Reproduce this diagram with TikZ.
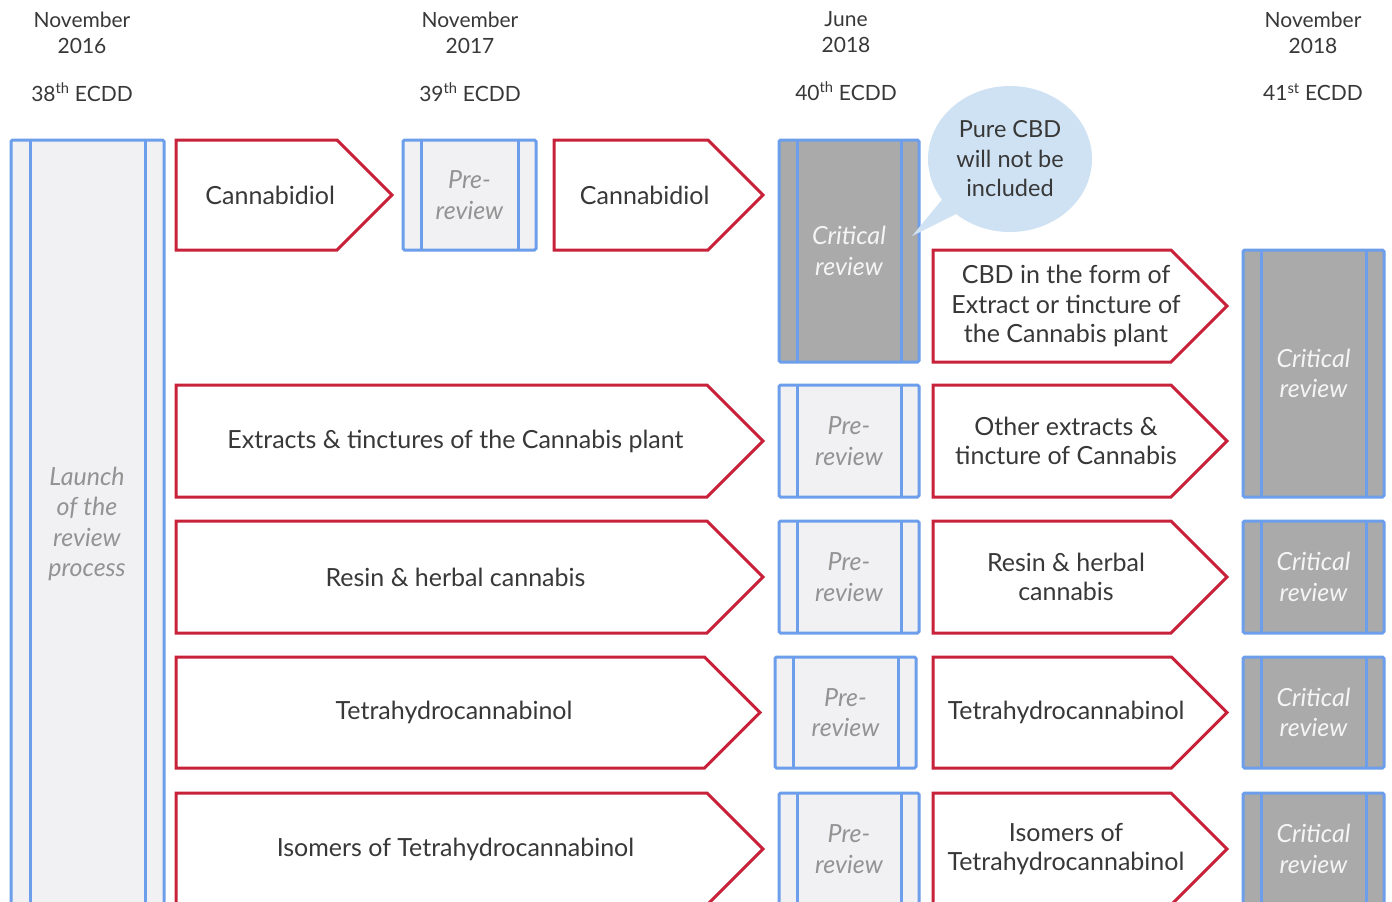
\documentclass[tikz,border=0pt]{standalone}
\usepackage{fontspec}
\setmainfont{Lato}
\usetikzlibrary{shapes.callouts}
\definecolor{redc}{HTML}{C8213A}
\definecolor{bluec}{HTML}{6D9EEB}
\definecolor{lightf}{HTML}{F1F1F3}
\definecolor{grayf}{HTML}{AAAAAA}
\definecolor{txt}{HTML}{383838}
\definecolor{bubble}{HTML}{CFE2F3}
\tikzset{
  redline/.style={draw=redc, line width=3pt, line join=miter, fill=white},
  boxline/.style={draw=bluec, line width=3pt, rounded corners=1.5pt},
  innerline/.style={draw=bluec, line width=3pt},
  lbl/.style={text=txt, font=\fontsize{25}{29.5}\selectfont, align=center, inner sep=0pt},
  hdr/.style={text=txt, font=\fontsize{21}{26}\selectfont, align=center, inner sep=0pt},
  prelbl/.style={text=gray!85, font=\itshape\fontsize{25}{30.5}\selectfont, align=center, inner sep=0pt},
  critlbl/.style={text=white!92!gray, font=\itshape\fontsize{25}{30.5}\selectfont, align=center, inner sep=0pt},
}
\newcommand{\redarrow}[6]{%
  \draw[redline] (#1,#2) -- ({#3-(#4-#2)/2},#2) -- (#3,{(#2+#4)/2}) -- ({#3-(#4-#2)/2},#4) -- (#1,#4) -- cycle;
  \node[lbl] (#5) at ({(#1+#3-(#4-#2)/4)/2},{(#2+#4)/2}) {#6};}
\newcommand{\revbox}[8]{% x1 y1 x2 y2 fill name style text
  \fill[#5] (#1,#2) rectangle (#3,#4);
  \draw[innerline] ({#1+18},#2) -- ({#1+18},#4);
  \draw[innerline] ({#3-18},#2) -- ({#3-18},#4);
  \draw[boxline] (#1,#2) rectangle (#3,#4);
  \node[#7] (#6) at ({(#1+#3)/2},{(#2+#4)/2}) {#8};}
\begin{document}
\begin{tikzpicture}[x=1pt,y=-1pt]
\useasboundingbox (0,0) rectangle (1392,902);
\clip (0,0) rectangle (1392,902);
\fill[white] (0,0) rectangle (1392,902);
% headers
\node[hdr] (h1) at (82,33) {November\\2016};
\node[hdr] (e1) at (82,92) {38\textsuperscript{th} ECDD};
\node[hdr] (h2) at (470,33) {November\\2017};
\node[hdr] (e2) at (470,92) {39\textsuperscript{th} ECDD};
\node[hdr] (h3) at (846,32) {June\\2018};
\node[hdr] (e3) at (846,91) {40\textsuperscript{th} ECDD};
\node[hdr] (h4) at (1313,33) {November\\2018};
\node[hdr] (e4) at (1313,92) {41\textsuperscript{st} ECDD};
% launch
\fill[lightf] (11,140) rectangle (164,910);
\draw[innerline] (30,140) -- (30,910);
\draw[innerline] (145,140) -- (145,910);
\draw[boxline] (11,140) rectangle (164,910);
\node[prelbl] (launch) at (87,524) {Launch\\of the\\review\\process};
% row 1
\redarrow{176}{140}{392}{250}{cbd1}{Cannabidiol}
\revbox{403}{140}{536}{250}{lightf}{pre1}{prelbl}{Pre-\\review}
\redarrow{554}{140}{763}{250}{cbd2}{Cannabidiol}
\revbox{779}{140}{919}{362}{grayf}{crit1}{critlbl}{Critical\\review}
\node[ellipse callout, fill=bubble, minimum width=164pt, minimum height=146pt,
      callout absolute pointer={(912,236)}, text=txt, font=\fontsize{23.5}{29.5}\selectfont,
      align=center, inner sep=0pt] (bub) at (1010,159) {Pure CBD\\will not be\\included};
\redarrow{933}{250}{1227}{362}{cbdext}{CBD in the form of\\Extract or tincture of\\the Cannabis plant}
\revbox{1243}{250}{1384}{497}{grayf}{crit2}{critlbl}{Critical\\review}
% row 2
\redarrow{176}{385}{763}{497}{ext}{Extracts \& tinctures of the Cannabis plant}
\revbox{779}{385}{919}{497}{lightf}{pre2}{prelbl}{Pre-\\review}
\redarrow{933}{385}{1227}{497}{oext}{Other extracts \&\\tincture of Cannabis}
% row 3
\redarrow{176}{521}{763}{633}{resin}{Resin \& herbal cannabis}
\revbox{779}{521}{919}{633}{lightf}{pre3}{prelbl}{Pre-\\review}
\redarrow{933}{521}{1227}{633}{resin2}{Resin \& herbal\\cannabis}
\revbox{1243}{521}{1384}{633}{grayf}{crit3}{critlbl}{Critical\\review}
% row 4
\redarrow{176}{657}{760}{768}{thc}{Tetrahydrocannabinol}
\revbox{775}{657}{916}{768}{lightf}{pre4}{prelbl}{Pre-\\review}
\redarrow{933}{657}{1227}{768}{thc2}{Tetrahydrocannabinol}
\revbox{1243}{657}{1384}{768}{grayf}{crit4}{critlbl}{Critical\\review}
% row 5
\redarrow{176}{793}{763}{905}{iso}{Isomers of Tetrahydrocannabinol}
\revbox{779}{793}{919}{905}{lightf}{pre5}{prelbl}{Pre-\\review}
\redarrow{933}{793}{1227}{905}{iso2}{Isomers of\\Tetrahydrocannabinol}
\revbox{1243}{793}{1384}{905}{grayf}{crit5}{critlbl}{Critical\\review}
\end{tikzpicture}
\end{document}
